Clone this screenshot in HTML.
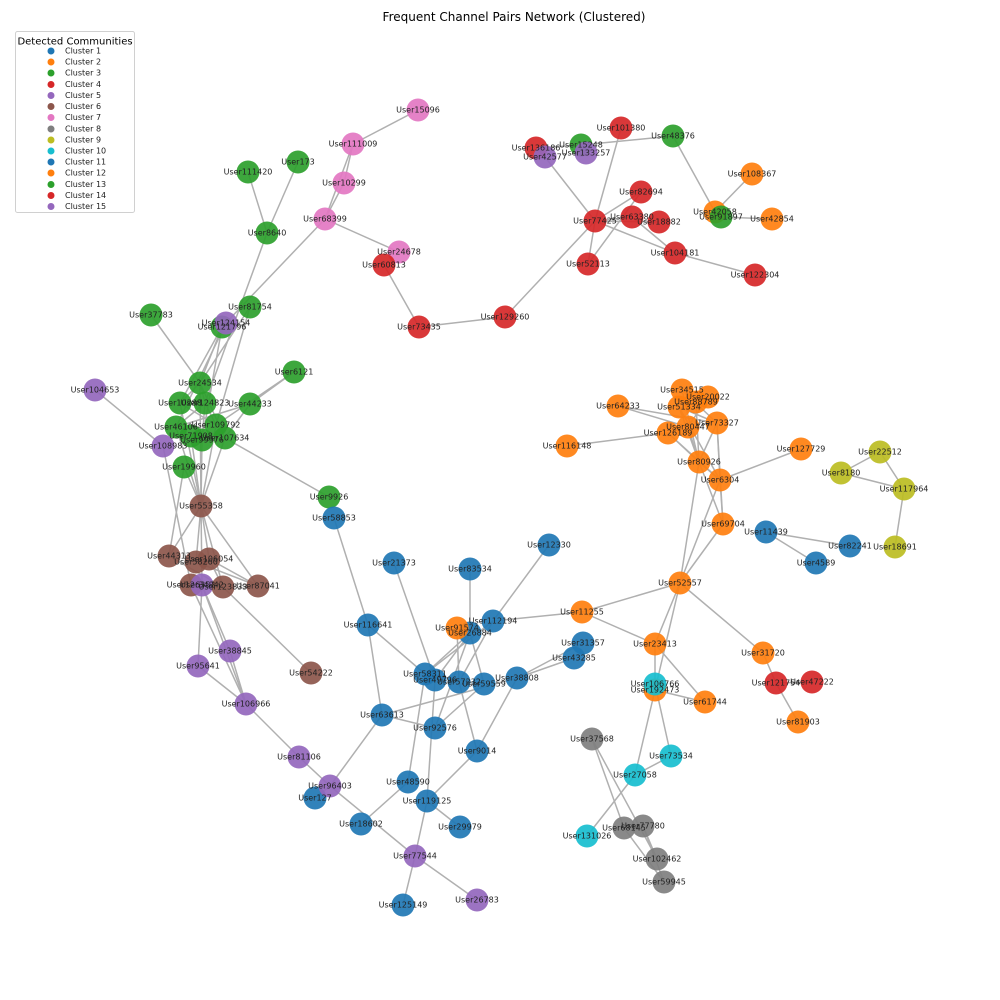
<!DOCTYPE html>
<html><head><meta charset="utf-8"><style>
html,body{margin:0;padding:0;background:#fff;}
svg{display:block;font-family:"DejaVu Sans","Liberation Sans",sans-serif;}
.e line{stroke:#b0b0b0;stroke-width:1.5;}
.n circle{stroke:none;opacity:0.92;}
.t text{font-size:8px;fill:#222;text-anchor:middle;dominant-baseline:central;}
.B{fill:#1f77b4}.O{fill:#ff7f0e}.G{fill:#2ca02c}.R{fill:#d62728}.P{fill:#9467bd}.Br{fill:#8c564b}.Pk{fill:#e377c2}.Gy{fill:#7f7f7f}.Ol{fill:#bcbd22}.C{fill:#17becf}
</style></head><body>
<svg width="1000" height="1000" viewBox="0 0 1000 1000" xmlns="http://www.w3.org/2000/svg">
<text x="514" y="21" font-size="12" text-anchor="middle" fill="#000">Frequent Channel Pairs Network (Clustered)</text>
<g class="e">
<line x1="418" y1="110" x2="353" y2="144"/><line x1="353" y1="144" x2="344" y2="183"/><line x1="353" y1="144" x2="325" y2="219"/><line x1="344" y1="183" x2="325" y2="219"/><line x1="325" y1="219" x2="399" y2="252"/><line x1="325" y1="219" x2="222" y2="327"/>
<line x1="248" y1="172" x2="267" y2="233"/><line x1="298" y1="162" x2="267" y2="233"/><line x1="267" y1="233" x2="205" y2="403"/>
<line x1="250" y1="307" x2="200" y2="383"/><line x1="250" y1="307" x2="216" y2="425"/><line x1="222" y1="327" x2="200" y2="383"/><line x1="222" y1="327" x2="180" y2="403"/><line x1="222" y1="327" x2="202" y2="440"/><line x1="226" y1="323" x2="176" y2="427"/>
<line x1="151" y1="315" x2="200" y2="383"/><line x1="294" y1="372" x2="250" y2="404"/><line x1="294" y1="372" x2="216" y2="425"/><line x1="250" y1="404" x2="176" y2="427"/><line x1="250" y1="404" x2="225" y2="438"/><line x1="225" y1="438" x2="329" y2="497"/>
<line x1="200" y1="383" x2="180" y2="403"/><line x1="200" y1="383" x2="205" y2="403"/><line x1="200" y1="383" x2="225" y2="438"/><line x1="180" y1="403" x2="216" y2="425"/><line x1="205" y1="403" x2="216" y2="425"/><line x1="205" y1="403" x2="176" y2="427"/><line x1="205" y1="403" x2="202" y2="440"/>
<line x1="201" y1="506" x2="200" y2="383"/><line x1="201" y1="506" x2="202" y2="440"/><line x1="201" y1="506" x2="225" y2="438"/><line x1="201" y1="506" x2="184" y2="467"/><line x1="201" y1="506" x2="176" y2="427"/><line x1="201" y1="506" x2="216" y2="425"/><line x1="201" y1="506" x2="180" y2="403"/><line x1="201" y1="506" x2="191" y2="436"/>
<line x1="95" y1="390" x2="163" y2="446"/><line x1="163" y1="446" x2="191" y2="585"/><line x1="184" y1="467" x2="169" y2="556"/>
<line x1="201" y1="506" x2="169" y2="556"/><line x1="201" y1="506" x2="196" y2="562"/><line x1="201" y1="506" x2="209" y2="559"/><line x1="201" y1="506" x2="223" y2="587"/><line x1="201" y1="506" x2="202" y2="585"/><line x1="201" y1="506" x2="258" y2="586"/>
<line x1="196" y1="562" x2="258" y2="586"/><line x1="209" y1="559" x2="258" y2="586"/><line x1="209" y1="559" x2="223" y2="587"/><line x1="169" y1="556" x2="223" y2="587"/>
<line x1="202" y1="585" x2="198" y2="666"/><line x1="202" y1="585" x2="230" y2="651"/><line x1="202" y1="585" x2="246" y2="704"/><line x1="191" y1="585" x2="246" y2="704"/><line x1="223" y1="587" x2="311" y2="673"/>
<line x1="198" y1="666" x2="246" y2="704"/><line x1="230" y1="651" x2="246" y2="704"/><line x1="246" y1="704" x2="299" y2="757"/><line x1="299" y1="757" x2="330" y2="786"/>
<line x1="330" y1="786" x2="415" y2="856"/><line x1="330" y1="786" x2="382" y2="715"/><line x1="315" y1="798" x2="330" y2="786"/>
<line x1="361" y1="824" x2="408" y2="782"/><line x1="408" y1="782" x2="425" y2="674"/><line x1="427" y1="801" x2="435" y2="680"/><line x1="427" y1="801" x2="477" y2="751"/><line x1="427" y1="801" x2="460" y2="827"/><line x1="427" y1="801" x2="415" y2="856"/>
<line x1="415" y1="856" x2="403" y2="905"/><line x1="415" y1="856" x2="477" y2="900"/>
<line x1="334" y1="518" x2="368" y2="625"/><line x1="368" y1="625" x2="382" y2="715"/><line x1="368" y1="625" x2="425" y2="674"/><line x1="394" y1="563" x2="435" y2="680"/><line x1="470" y1="569" x2="470" y2="633"/><line x1="549" y1="545" x2="493" y2="621"/><line x1="493" y1="621" x2="582" y2="612"/>
<line x1="493" y1="621" x2="425" y2="674"/><line x1="470" y1="633" x2="425" y2="674"/><line x1="470" y1="633" x2="435" y2="680"/><line x1="470" y1="633" x2="435" y2="728"/><line x1="457" y1="628" x2="459" y2="682"/>
<line x1="459" y1="682" x2="477" y2="751"/><line x1="484" y1="684" x2="435" y2="728"/><line x1="382" y1="715" x2="435" y2="728"/><line x1="382" y1="715" x2="517" y2="678"/><line x1="517" y1="678" x2="574" y2="658"/><line x1="517" y1="678" x2="583" y2="643"/><line x1="517" y1="678" x2="477" y2="751"/><line x1="470" y1="633" x2="484" y2="684"/><line x1="493" y1="621" x2="459" y2="682"/><line x1="425" y1="674" x2="484" y2="684"/>
<line x1="582" y1="612" x2="680" y2="583"/><line x1="582" y1="612" x2="655" y2="644"/><line x1="680" y1="583" x2="655" y2="644"/><line x1="680" y1="583" x2="655" y2="690"/><line x1="680" y1="583" x2="763" y2="653"/><line x1="680" y1="583" x2="699" y2="462"/><line x1="680" y1="583" x2="720" y2="480"/><line x1="680" y1="583" x2="723" y2="524"/>
<line x1="655" y1="644" x2="655" y2="684"/><line x1="655" y1="644" x2="705" y2="702"/><line x1="655" y1="690" x2="705" y2="702"/><line x1="655" y1="690" x2="635" y2="775"/><line x1="655" y1="684" x2="671" y2="756"/><line x1="635" y1="775" x2="671" y2="756"/><line x1="635" y1="775" x2="587" y2="836"/>
<line x1="763" y1="653" x2="776" y2="683"/><line x1="776" y1="683" x2="812" y2="682"/><line x1="776" y1="683" x2="798" y2="722"/>
<line x1="592" y1="739" x2="624" y2="828"/><line x1="592" y1="739" x2="657" y2="859"/><line x1="643" y1="826" x2="657" y2="859"/><line x1="624" y1="828" x2="664" y2="882"/><line x1="643" y1="826" x2="664" y2="882"/>
<line x1="699" y1="462" x2="668" y2="433"/><line x1="699" y1="462" x2="679" y2="407"/><line x1="699" y1="462" x2="682" y2="390"/><line x1="699" y1="462" x2="717" y2="423"/><line x1="699" y1="462" x2="688" y2="427"/><line x1="699" y1="462" x2="696" y2="402"/><line x1="699" y1="462" x2="720" y2="480"/>
<line x1="720" y1="480" x2="717" y2="423"/><line x1="720" y1="480" x2="801" y2="449"/><line x1="720" y1="480" x2="723" y2="524"/><line x1="720" y1="480" x2="668" y2="433"/><line x1="720" y1="480" x2="679" y2="407"/><line x1="723" y1="524" x2="717" y2="423"/><line x1="699" y1="462" x2="723" y2="524"/>
<line x1="567" y1="446" x2="668" y2="433"/><line x1="618" y1="406" x2="688" y2="427"/><line x1="618" y1="406" x2="717" y2="423"/><line x1="679" y1="407" x2="717" y2="423"/><line x1="708" y1="397" x2="688" y2="427"/><line x1="682" y1="390" x2="717" y2="423"/>
<line x1="766" y1="532" x2="850" y2="546"/><line x1="766" y1="532" x2="816" y2="563"/><line x1="895" y1="547" x2="904" y2="489"/><line x1="904" y1="489" x2="841" y2="473"/><line x1="904" y1="489" x2="880" y2="452"/><line x1="880" y1="452" x2="841" y2="473"/>
<line x1="505" y1="317" x2="595" y2="221"/><line x1="419" y1="327" x2="505" y2="317"/><line x1="384" y1="265" x2="419" y2="327"/>
<line x1="536" y1="148" x2="581" y2="145"/><line x1="581" y1="145" x2="673" y2="136"/><line x1="621" y1="128" x2="595" y2="221"/><line x1="545" y1="157" x2="595" y2="221"/><line x1="673" y1="136" x2="715" y2="212"/><line x1="715" y1="212" x2="752" y2="174"/><line x1="721" y1="217" x2="772" y2="219"/>
<line x1="595" y1="221" x2="641" y2="192"/><line x1="595" y1="221" x2="632" y2="217"/><line x1="595" y1="221" x2="659" y2="222"/><line x1="595" y1="221" x2="588" y2="264"/><line x1="595" y1="221" x2="675" y2="253"/><line x1="632" y1="217" x2="675" y2="253"/><line x1="641" y1="192" x2="588" y2="264"/><line x1="675" y1="253" x2="755" y2="275"/>
</g>
<g class="n">
<circle class="Pk" cx="418" cy="110" r="11.5"/><circle class="Pk" cx="353" cy="144" r="11.5"/><circle class="Pk" cx="344" cy="183" r="11.5"/><circle class="Pk" cx="325" cy="219" r="11.5"/><circle class="Pk" cx="399" cy="252" r="11.5"/>
<circle class="R" cx="384" cy="265" r="11.5"/><circle class="R" cx="419" cy="327" r="11.5"/><circle class="R" cx="505" cy="317" r="11.5"/>
<circle class="G" cx="248" cy="172" r="11.5"/><circle class="G" cx="298" cy="162" r="11.5"/><circle class="G" cx="267" cy="233" r="11.5"/><circle class="G" cx="250" cy="307" r="11.5"/><circle class="G" cx="151" cy="315" r="11.5"/><circle class="G" cx="222" cy="327" r="11.5"/><circle class="P" cx="226" cy="323" r="11.5"/>
<circle class="G" cx="294" cy="372" r="11.5"/><circle class="G" cx="200" cy="383" r="11.5"/><circle class="G" cx="180" cy="403" r="11.5"/><circle class="G" cx="205" cy="403" r="11.5"/><circle class="G" cx="250" cy="404" r="11.5"/><circle class="G" cx="176" cy="427" r="11.5"/><circle class="G" cx="216" cy="425" r="11.5"/><circle class="G" cx="191" cy="436" r="11.5"/><circle class="G" cx="202" cy="440" r="11.5"/><circle class="G" cx="225" cy="438" r="11.5"/><circle class="G" cx="184" cy="467" r="11.5"/><circle class="G" cx="329" cy="497" r="11.5"/>
<circle class="P" cx="95" cy="390" r="11.5"/><circle class="P" cx="163" cy="446" r="11.5"/>
<circle class="Br" cx="201" cy="506" r="11.5"/><circle class="Br" cx="169" cy="556" r="11.5"/><circle class="Br" cx="196" cy="562" r="11.5"/><circle class="Br" cx="209" cy="559" r="11.5"/><circle class="Br" cx="191" cy="585" r="11.5"/><circle class="P" cx="202" cy="585" r="11.5"/><circle class="Br" cx="223" cy="587" r="11.5"/><circle class="Br" cx="258" cy="586" r="11.5"/><circle class="Br" cx="311" cy="673" r="11.5"/>
<circle class="P" cx="230" cy="651" r="11.5"/><circle class="P" cx="198" cy="666" r="11.5"/><circle class="P" cx="246" cy="704" r="11.5"/><circle class="P" cx="299" cy="757" r="11.5"/><circle class="B" cx="315" cy="798" r="11.5"/><circle class="P" cx="330" cy="786" r="11.5"/>
<circle class="B" cx="334" cy="518" r="11.5"/><circle class="B" cx="394" cy="563" r="11.5"/><circle class="B" cx="470" cy="569" r="11.5"/><circle class="B" cx="549" cy="545" r="11.5"/><circle class="B" cx="368" cy="625" r="11.5"/><circle class="B" cx="493" cy="621" r="11.5"/><circle class="B" cx="470" cy="633" r="11.5"/><circle class="O" cx="457" cy="628" r="11.5"/>
<circle class="B" cx="425" cy="674" r="11.5"/><circle class="B" cx="435" cy="680" r="11.5"/><circle class="B" cx="459" cy="682" r="11.5"/><circle class="B" cx="484" cy="684" r="11.5"/><circle class="B" cx="517" cy="678" r="11.5"/><circle class="B" cx="583" cy="643" r="11.5"/><circle class="B" cx="574" cy="658" r="11.5"/>
<circle class="B" cx="382" cy="715" r="11.5"/><circle class="B" cx="435" cy="728" r="11.5"/><circle class="B" cx="477" cy="751" r="11.5"/><circle class="B" cx="408" cy="782" r="11.5"/><circle class="B" cx="427" cy="801" r="11.5"/><circle class="B" cx="460" cy="827" r="11.5"/><circle class="B" cx="361" cy="824" r="11.5"/><circle class="B" cx="403" cy="905" r="11.5"/>
<circle class="P" cx="415" cy="856" r="11.5"/><circle class="P" cx="477" cy="900" r="11.5"/>
<circle class="R" cx="536" cy="148" r="11.5"/><circle class="P" cx="545" cy="157" r="11.5"/><circle class="G" cx="581" cy="145" r="11.5"/><circle class="P" cx="586" cy="153" r="11.5"/><circle class="R" cx="621" cy="128" r="11.5"/><circle class="G" cx="673" cy="136" r="11.5"/>
<circle class="R" cx="641" cy="192" r="11.5"/><circle class="R" cx="595" cy="221" r="11.5"/><circle class="R" cx="632" cy="217" r="11.5"/><circle class="R" cx="659" cy="222" r="11.5"/><circle class="R" cx="588" cy="264" r="11.5"/><circle class="R" cx="675" cy="253" r="11.5"/><circle class="R" cx="755" cy="275" r="11.5"/>
<circle class="O" cx="752" cy="174" r="11.5"/><circle class="O" cx="715" cy="212" r="11.5"/><circle class="G" cx="721" cy="217" r="11.5"/><circle class="O" cx="772" cy="219" r="11.5"/>
<circle class="O" cx="682" cy="390" r="11.5"/><circle class="O" cx="708" cy="397" r="11.5"/><circle class="O" cx="696" cy="402" r="11.5"/><circle class="O" cx="679" cy="407" r="11.5"/><circle class="O" cx="618" cy="406" r="11.5"/><circle class="O" cx="688" cy="427" r="11.5"/><circle class="O" cx="717" cy="423" r="11.5"/><circle class="O" cx="668" cy="433" r="11.5"/><circle class="O" cx="567" cy="446" r="11.5"/><circle class="O" cx="801" cy="449" r="11.5"/><circle class="O" cx="699" cy="462" r="11.5"/><circle class="O" cx="720" cy="480" r="11.5"/><circle class="O" cx="723" cy="524" r="11.5"/>
<circle class="Ol" cx="880" cy="452" r="11.5"/><circle class="Ol" cx="841" cy="473" r="11.5"/><circle class="Ol" cx="904" cy="489" r="11.5"/><circle class="Ol" cx="895" cy="547" r="11.5"/>
<circle class="B" cx="766" cy="532" r="11.5"/><circle class="B" cx="850" cy="546" r="11.5"/><circle class="B" cx="816" cy="563" r="11.5"/>
<circle class="O" cx="680" cy="583" r="11.5"/><circle class="O" cx="582" cy="612" r="11.5"/><circle class="O" cx="655" cy="644" r="11.5"/><circle class="O" cx="763" cy="653" r="11.5"/><circle class="O" cx="655" cy="690" r="11.5"/><circle class="C" cx="655" cy="684" r="11.5"/><circle class="O" cx="705" cy="702" r="11.5"/>
<circle class="R" cx="776" cy="683" r="11.5"/><circle class="R" cx="812" cy="682" r="11.5"/><circle class="O" cx="798" cy="722" r="11.5"/>
<circle class="Gy" cx="592" cy="739" r="11.5"/><circle class="C" cx="671" cy="756" r="11.5"/><circle class="C" cx="635" cy="775" r="11.5"/><circle class="C" cx="587" cy="836" r="11.5"/><circle class="Gy" cx="624" cy="828" r="11.5"/><circle class="Gy" cx="643" cy="826" r="11.5"/><circle class="Gy" cx="657" cy="859" r="11.5"/><circle class="Gy" cx="664" cy="882" r="11.5"/>
</g>
<g class="t">
<text x="418" y="110">User15096</text><text x="353" y="144">User111009</text><text x="344" y="183">User10299</text><text x="325" y="219">User68399</text><text x="399" y="252">User24678</text>
<text x="384" y="265">User60813</text><text x="419" y="327">User73435</text><text x="505" y="317">User129260</text>
<text x="248" y="172">User111420</text><text x="298" y="162">User173</text><text x="267" y="233">User8640</text><text x="250" y="307">User81754</text><text x="151" y="315">User37783</text><text x="222" y="327">User121796</text><text x="226" y="323">User124154</text>
<text x="294" y="372">User6121</text><text x="200" y="383">User24534</text><text x="180" y="403">User10288</text><text x="205" y="403">User124823</text><text x="250" y="404">User44233</text><text x="176" y="427">User46106</text><text x="216" y="425">User109792</text><text x="191" y="436">User71908</text><text x="202" y="440">User99976</text><text x="225" y="438">User107634</text><text x="184" y="467">User19960</text><text x="329" y="497">User9926</text>
<text x="95" y="390">User104653</text><text x="163" y="446">User108983</text>
<text x="201" y="506">User55358</text><text x="169" y="556">User44313</text><text x="196" y="562">User58260</text><text x="209" y="559">User106054</text><text x="191" y="585">User126352</text><text x="202" y="585">User34842</text><text x="223" y="587">User123833</text><text x="258" y="586">User87041</text><text x="311" y="673">User54222</text>
<text x="230" y="651">User38845</text><text x="198" y="666">User95641</text><text x="246" y="704">User106966</text><text x="299" y="757">User81106</text><text x="315" y="798">User127</text><text x="330" y="786">User96403</text>
<text x="334" y="518">User58853</text><text x="394" y="563">User21373</text><text x="470" y="569">User83534</text><text x="549" y="545">User12330</text><text x="368" y="625">User116641</text><text x="493" y="621">User112194</text><text x="457" y="628">User91574</text><text x="470" y="633">User26884</text>
<text x="425" y="674">User58311</text><text x="435" y="680">User49796</text><text x="459" y="682">User57232</text><text x="484" y="684">User59559</text><text x="517" y="678">User38808</text><text x="583" y="643">User31357</text><text x="574" y="658">User43285</text>
<text x="382" y="715">User63613</text><text x="435" y="728">User92576</text><text x="477" y="751">User9014</text><text x="408" y="782">User48590</text><text x="427" y="801">User119125</text><text x="460" y="827">User29979</text><text x="361" y="824">User18602</text><text x="403" y="905">User125149</text>
<text x="415" y="856">User77544</text><text x="477" y="900">User26783</text>
<text x="536" y="148">User136186</text><text x="545" y="157">User42577</text><text x="581" y="145">User15248</text><text x="586" y="153">User133257</text><text x="621" y="128">User101380</text><text x="673" y="136">User48376</text>
<text x="641" y="192">User82694</text><text x="595" y="221">User77425</text><text x="632" y="217">User63380</text><text x="659" y="222">User18882</text><text x="588" y="264">User52113</text><text x="675" y="253">User104181</text><text x="755" y="275">User122304</text>
<text x="752" y="174">User108367</text><text x="715" y="212">User42058</text><text x="721" y="217">User91897</text><text x="772" y="219">User42854</text>
<text x="682" y="390">User34515</text><text x="708" y="397">User20022</text><text x="696" y="402">User88789</text><text x="679" y="407">User51334</text><text x="618" y="406">User64233</text><text x="688" y="427">User80447</text><text x="717" y="423">User73327</text><text x="668" y="433">User126189</text><text x="567" y="446">User116148</text><text x="801" y="449">User127729</text><text x="699" y="462">User80926</text><text x="720" y="480">User6304</text><text x="723" y="524">User69704</text>
<text x="880" y="452">User22512</text><text x="841" y="473">User8180</text><text x="904" y="489">User117964</text><text x="895" y="547">User18691</text>
<text x="766" y="532">User11439</text><text x="850" y="546">User82241</text><text x="816" y="563">User4589</text>
<text x="680" y="583">User52557</text><text x="582" y="612">User11255</text><text x="655" y="644">User23413</text><text x="763" y="653">User31720</text><text x="655" y="690">User192473</text><text x="655" y="684">User106766</text><text x="705" y="702">User61744</text>
<text x="776" y="683">User121754</text><text x="812" y="682">User47222</text><text x="798" y="722">User81903</text>
<text x="592" y="739">User37568</text><text x="671" y="756">User73534</text><text x="635" y="775">User27058</text><text x="587" y="836">User131026</text><text x="624" y="828">User68145</text><text x="643" y="826">User77780</text><text x="657" y="859">User102462</text><text x="664" y="882">User59945</text>
</g>
<g>
<rect x="15.5" y="31.5" width="119" height="181" rx="2" fill="#fff" stroke="#d0d0d0"/>
<text x="75" y="42" font-size="10" text-anchor="middle" dominant-baseline="central" fill="#000">Detected Communities</text>
<g font-size="8" fill="#222" dominant-baseline="central">
<circle cx="51" cy="51" r="3.5" fill="#1f77b4"/><text x="65" y="51">Cluster 1</text>
<circle cx="51" cy="62" r="3.5" fill="#ff7f0e"/><text x="65" y="62">Cluster 2</text>
<circle cx="51" cy="73" r="3.5" fill="#2ca02c"/><text x="65" y="73">Cluster 3</text>
<circle cx="51" cy="84.5" r="3.5" fill="#d62728"/><text x="65" y="84.5">Cluster 4</text>
<circle cx="51" cy="95.5" r="3.5" fill="#9467bd"/><text x="65" y="95.5">Cluster 5</text>
<circle cx="51" cy="106.5" r="3.5" fill="#8c564b"/><text x="65" y="106.5">Cluster 6</text>
<circle cx="51" cy="117.5" r="3.5" fill="#e377c2"/><text x="65" y="117.5">Cluster 7</text>
<circle cx="51" cy="129" r="3.5" fill="#7f7f7f"/><text x="65" y="129">Cluster 8</text>
<circle cx="51" cy="140" r="3.5" fill="#bcbd22"/><text x="65" y="140">Cluster 9</text>
<circle cx="51" cy="151" r="3.5" fill="#17becf"/><text x="65" y="151">Cluster 10</text>
<circle cx="51" cy="162" r="3.5" fill="#1f77b4"/><text x="65" y="162">Cluster 11</text>
<circle cx="51" cy="173" r="3.5" fill="#ff7f0e"/><text x="65" y="173">Cluster 12</text>
<circle cx="51" cy="184.5" r="3.5" fill="#2ca02c"/><text x="65" y="184.5">Cluster 13</text>
<circle cx="51" cy="195.5" r="3.5" fill="#d62728"/><text x="65" y="195.5">Cluster 14</text>
<circle cx="51" cy="206.5" r="3.5" fill="#9467bd"/><text x="65" y="206.5">Cluster 15</text>
</g>
</g>
</svg>
</body></html>
